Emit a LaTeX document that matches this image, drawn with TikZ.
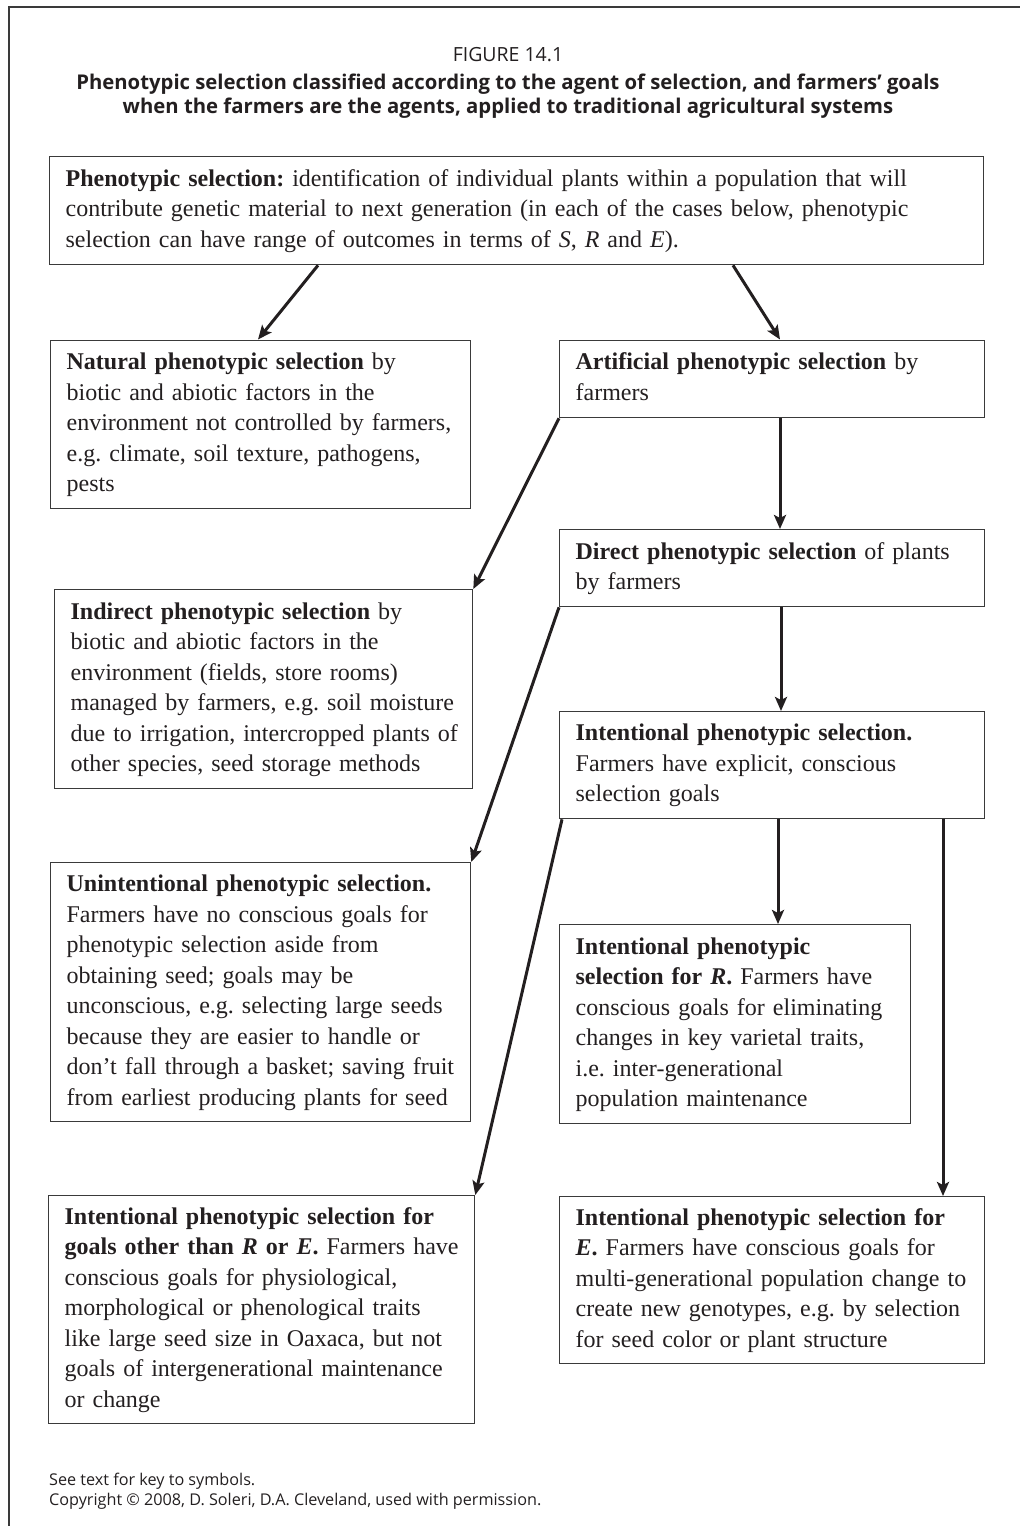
\documentclass[tikz,border=0pt]{standalone}
\usepackage{fontspec}
\setmainfont{Liberation Serif}
\newfontfamily\headfont{Open Sans}
\usetikzlibrary{arrows.meta}
\definecolor{txt}{HTML}{231F20}
\definecolor{boxc}{HTML}{3A3A3A}
\definecolor{arrc}{HTML}{231F20}
\frenchspacing
\begin{document}
\begin{tikzpicture}[x=1pt,y=-1pt,
  box/.style={draw=boxc, line width=1.3pt, anchor=north west, align=left,
    inner xsep=16pt, inner ysep=0pt, text=txt,
    font=\frenchspacing\fontsize{24}{30.5}\selectfont},
  arr/.style={draw=arrc, line width=3pt, -{Stealth[length=14pt,width=12pt,inset=3pt]}},
  head/.style={text=txt, inner sep=0pt, anchor=base},
  titlef/.style={font=\headfont\bfseries\fontsize{20.3}{25}\selectfont},
  footf/.style={font=\headfont\fontsize{16.2}{19}\selectfont}]
\useasboundingbox (0,0) rectangle (1020,1526);
\draw[boxc, line width=1.3pt] (1020,7) -- (9,7) -- (9,1526);

\node[head, font=\headfont\fontsize{19.5}{23}\selectfont] (fig) at (508,61) {FIGURE 14.1};
\node[head, titlef] (title1) at (508,89)
  {Phenotypic selection classified according to the agent of selection, and farmers’ goals};
\node[head, titlef] (title2) at (508,113)
  {when the farmers are the agents, applied to traditional agricultural systems};

\node[box, text width=902pt, minimum height=108pt] (phen) at (49,156)
 {\begin{tabular}{@{}l@{}}\textbf{Phenotypic selection:} identification of individual plants within a population that will\\
 contribute genetic material to next generation (in each of the cases below, phenotypic\\
 selection can have range of outcomes in terms of \textit{S}, \textit{R} and \textit{E}).\end{tabular}};

\node[box, text width=388pt, minimum height=168.5pt] (nat) at (50,339.5)
 {\begin{tabular}{@{}l@{}}\textbf{Natural phenotypic selection} by\\ biotic and abiotic factors in the\\ environment not controlled by farmers,\\ e.g. climate, soil texture, pathogens,\\ pests\end{tabular}};

\node[box, text width=393pt, minimum height=77.5pt] (art) at (559,339.5)
 {\begin{tabular}{@{}l@{}}\textbf{Artificial phenotypic selection} by\\ farmers\end{tabular}};

\node[box, text width=393pt, minimum height=77pt] (dir) at (559,529)
 {\begin{tabular}{@{}l@{}}\textbf{Direct phenotypic selection} of plants\\ by farmers\end{tabular}};

\node[box, text width=386pt, minimum height=199pt] (ind) at (54,589)
 {\begin{tabular}{@{}l@{}}\textbf{Indirect phenotypic selection} by\\ biotic and abiotic factors in the\\ environment (fields, store rooms)\\ managed by farmers, e.g. soil moisture\\ due to irrigation, intercropped plants of\\ other species, seed storage methods\end{tabular}};

\node[box, text width=393pt, minimum height=107pt] (int) at (559,711)
 {\begin{tabular}{@{}l@{}}\textbf{Intentional phenotypic selection.}\\ Farmers have explicit, conscious\\ selection goals\end{tabular}};

\node[box, text width=388pt, minimum height=259pt] (unint) at (50,862)
 {\begin{tabular}{@{}l@{}}\textbf{Unintentional phenotypic selection.}\\ Farmers have no conscious goals for\\ phenotypic selection aside from\\ obtaining seed; goals may be\\ unconscious, e.g. selecting large seeds\\ because they are easier to handle or\\ don’t fall through a basket; saving fruit\\ from earliest producing plants for seed\end{tabular}};

\node[box, text width=319pt, minimum height=199pt] (forR) at (559,924)
 {\begin{tabular}{@{}l@{}}\textbf{Intentional phenotypic}\\ \textbf{selection for \textit{R}.} Farmers have\\ conscious goals for eliminating\\ changes in key varietal traits,\\ i.e. inter-generational\\ population maintenance\end{tabular}};

\node[box, text width=393pt, minimum height=167pt] (forE) at (559,1196)
 {\begin{tabular}{@{}l@{}}\textbf{Intentional phenotypic selection for}\\ \textbf{\textit{E}.} Farmers have conscious goals for\\ multi-generational population change to\\ create new genotypes, e.g. by selection\\ for seed color or plant structure\end{tabular}};

\node[box, text width=394pt, minimum height=228pt] (other) at (48,1195)
 {\begin{tabular}{@{}l@{}}\textbf{Intentional phenotypic selection for}\\ \textbf{goals other than \textit{R} or \textit{E}.} Farmers have\\ conscious goals for physiological,\\ morphological or phenological traits\\ like large seed size in Oaxaca, but not\\ goals of intergenerational maintenance\\ or change\end{tabular}};

\node[head, anchor=base west, footf] (note) at (49,1485) {See text for key to symbols.};
\node[head, anchor=base west, footf] (copy) at (49,1505) {Copyright © 2008, D. Soleri, D.A. Cleveland, used with permission.};

\draw[arr] ([xshift=269pt]phen.south west) -- ([xshift=208pt]nat.north west);
\draw[arr] ([xshift=684pt]phen.south west) -- ([xshift=221pt]art.north west);
\draw[arr] ([xshift=221pt]art.south west) -- ([xshift=221pt]dir.north west);
\draw[arr] (art.south west) -- (ind.north east);
\draw[arr] ([xshift=222pt]dir.south west) -- ([xshift=222pt]int.north west);
\draw[arr] (dir.south west) -- (unint.north east);
\draw[arr] ([xshift=3pt]int.south west) -- (other.north east);
\draw[arr] ([xshift=219pt]int.south west) -- ([xshift=219pt]forR.north west);
\draw[arr] ([xshift=384pt]int.south west) -- ([xshift=384pt]forE.north west);
\end{tikzpicture}
\end{document}
